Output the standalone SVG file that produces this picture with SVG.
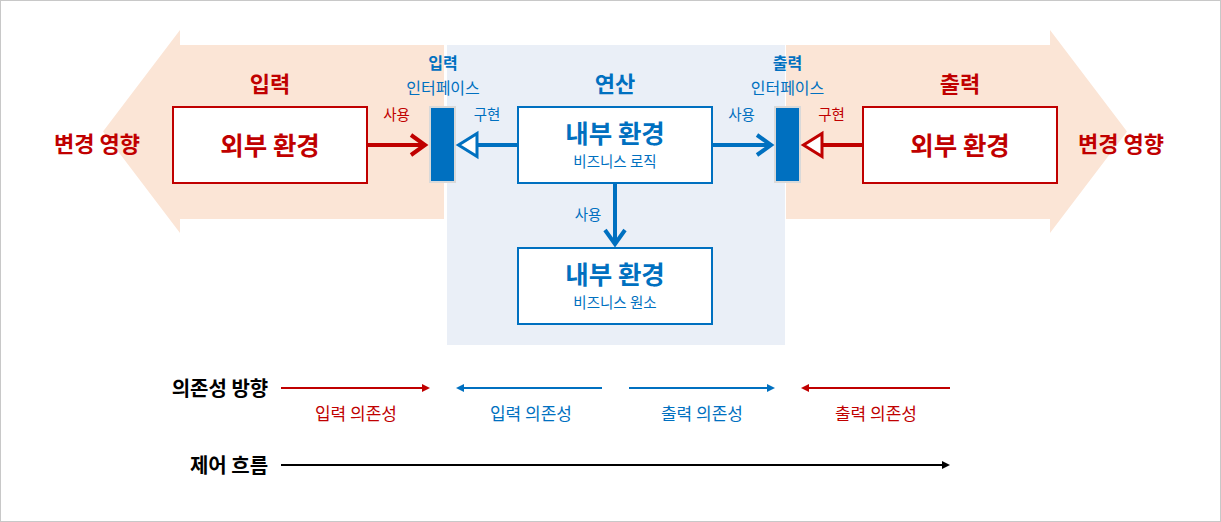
<svg xmlns="http://www.w3.org/2000/svg" width="1221" height="522" viewBox="0 0 1221 522">
<style>
text{font-family:"Noto Sans CJK KR","Noto Sans",sans-serif;text-anchor:middle}
.b{font-weight:bold}
.red{fill:#C00000}
.blue{fill:#0070C0}
.blk{fill:#000}
.big{font-size:25.5px;font-weight:bold}
.hd{font-size:22px;font-weight:bold}
.sm{font-size:14.5px}
.if{font-size:16px}
.lg{font-size:17px}
.lt{font-size:20px;font-weight:bold}
.box{fill:#fff;stroke-width:2}
.rb{stroke:#C00000}
.bb{stroke:#0070C0}
.bar{fill:#0070C0;stroke:#D9D9D9;stroke-width:2}
.ln{fill:none}
</style>
<defs>
<marker id="chevR" markerUnits="userSpaceOnUse" viewBox="-20 -15 25 30" markerWidth="25" markerHeight="30" refX="0" refY="0" orient="auto" overflow="visible"><path d="M-14,-10 L0,0 L-14,10" fill="none" stroke="#C00000" stroke-width="4"/></marker>
<marker id="chevB" markerUnits="userSpaceOnUse" viewBox="-20 -15 25 30" markerWidth="25" markerHeight="30" refX="0" refY="0" orient="auto" overflow="visible"><path d="M-14,-10 L0,0 L-14,10" fill="none" stroke="#0070C0" stroke-width="4"/></marker>
<marker id="triB" markerUnits="userSpaceOnUse" viewBox="-2 -15 26 30" markerWidth="26" markerHeight="30" refX="0" refY="0" orient="auto" overflow="visible"><path d="M0,-11.5 L18.5,0 L0,11.5 Z" fill="#fff" stroke="#0070C0" stroke-width="3"/></marker>
<marker id="triR" markerUnits="userSpaceOnUse" viewBox="-2 -15 26 30" markerWidth="26" markerHeight="30" refX="0" refY="0" orient="auto" overflow="visible"><path d="M0,-11.5 L18.5,0 L0,11.5 Z" fill="#fff" stroke="#C00000" stroke-width="3"/></marker>
<marker id="smR" markerUnits="userSpaceOnUse" viewBox="0 -5 10 10" markerWidth="10" markerHeight="10" refX="0" refY="0" orient="auto" overflow="visible"><path d="M0,-4 L8,0 L0,4 Z" fill="#C00000"/></marker>
<marker id="smB" markerUnits="userSpaceOnUse" viewBox="0 -5 10 10" markerWidth="10" markerHeight="10" refX="0" refY="0" orient="auto" overflow="visible"><path d="M0,-4 L8,0 L0,4 Z" fill="#0070C0"/></marker>
<marker id="smK" markerUnits="userSpaceOnUse" viewBox="0 -5 10 10" markerWidth="10" markerHeight="10" refX="0" refY="0" orient="auto" overflow="visible"><path d="M0,-4 L8,0 L0,4 Z" fill="#000"/></marker>
</defs>

<rect x="0.5" y="0.5" width="1220" height="521" fill="#fff" stroke="#C8C8C8"/>

<g id="input-band">
<polygon points="444,45 180,45 180,30 103,131.5 180,233 180,219 444,219" fill="#FBE5D6"/>
<text class="hd red" x="270" y="91.5">입력</text>
<text class="hd red" x="97" y="151.5">변경 영향</text>
</g>
<g id="output-band">
<polygon points="786,45 1050,45 1050,30 1127,131.5 1050,233 1050,219 786,219" fill="#FBE5D6"/>
<text class="hd red" x="960" y="91.5">출력</text>
<text class="hd red" x="1121" y="151.5">변경 영향</text>
</g>
<g id="compute-area">
<rect x="447" y="45" width="338" height="300" fill="#EAEFF7"/>
<text class="hd blue" x="615" y="91.5">연산</text>
</g>

<g id="input-external">
<rect class="box rb" x="173" y="107" width="194" height="76"/>
<text class="big red" x="270" y="154.5">외부 환경</text>
</g>
<g id="input-interface">
<rect class="bar" x="430" y="107" width="25" height="75"/>
<text class="if b blue" x="443" y="69">입력</text>
<text class="if blue" x="443" y="94">인터페이스</text>
</g>
<g id="business-logic">
<rect class="box bb" x="518" y="107" width="194" height="76"/>
<text class="big blue" x="615" y="142.5">내부 환경</text>
<text class="sm blue" x="615" y="166.5">비즈니스 로직</text>
</g>
<g id="output-interface">
<rect class="bar" x="775" y="107" width="25" height="75"/>
<text class="if b blue" x="787.5" y="69">출력</text>
<text class="if blue" x="787.5" y="94">인터페이스</text>
</g>
<g id="output-external">
<rect class="box rb" x="863" y="107" width="194" height="76"/>
<text class="big red" x="960" y="154.5">외부 환경</text>
</g>
<g id="business-elements">
<rect class="box bb" x="518" y="248" width="194" height="76"/>
<text class="big blue" x="615" y="283.5">내부 환경</text>
<text class="sm blue" x="615" y="308">비즈니스 원소</text>
</g>

<g id="connectors">
<line class="ln" x1="368" y1="145" x2="425" y2="145" stroke="#C00000" stroke-width="4" marker-end="url(#chevR)"/>
<text class="sm red" x="396.5" y="119.5">사용</text>
<line class="ln" x1="517" y1="145" x2="477" y2="145" stroke="#0070C0" stroke-width="4" marker-end="url(#triB)"/>
<text class="sm blue" x="487" y="119.5">구현</text>
<line class="ln" x1="713" y1="145" x2="771" y2="145" stroke="#0070C0" stroke-width="4" marker-end="url(#chevB)"/>
<text class="sm blue" x="741.5" y="119.5">사용</text>
<line class="ln" x1="862" y1="145" x2="822" y2="145" stroke="#C00000" stroke-width="4" marker-end="url(#triR)"/>
<text class="sm red" x="831.5" y="119.5">구현</text>
<line class="ln" x1="615" y1="184" x2="615" y2="244" stroke="#0070C0" stroke-width="4" marker-end="url(#chevB)"/>
<text class="sm blue" x="588" y="220">사용</text>
</g>

<g id="legend">
<text class="lt blk" x="220" y="395.5">의존성 방향</text>
<line x1="281" y1="388" x2="422" y2="388" stroke="#C00000" stroke-width="2" marker-end="url(#smR)"/>
<line x1="602" y1="388" x2="464" y2="388" stroke="#0070C0" stroke-width="2" marker-end="url(#smB)"/>
<line x1="629" y1="388" x2="767" y2="388" stroke="#0070C0" stroke-width="2" marker-end="url(#smB)"/>
<line x1="950" y1="388" x2="809" y2="388" stroke="#C00000" stroke-width="2" marker-end="url(#smR)"/>
<text class="lg red" x="356" y="419.5">입력 의존성</text>
<text class="lg blue" x="531" y="419.5">입력 의존성</text>
<text class="lg blue" x="702" y="419.5">출력 의존성</text>
<text class="lg red" x="876" y="419.5">출력 의존성</text>
<text class="lt blk" x="229" y="472.5">제어 흐름</text>
<line x1="281" y1="465" x2="942" y2="465" stroke="#000" stroke-width="2" marker-end="url(#smK)"/>
</g>
</svg>
